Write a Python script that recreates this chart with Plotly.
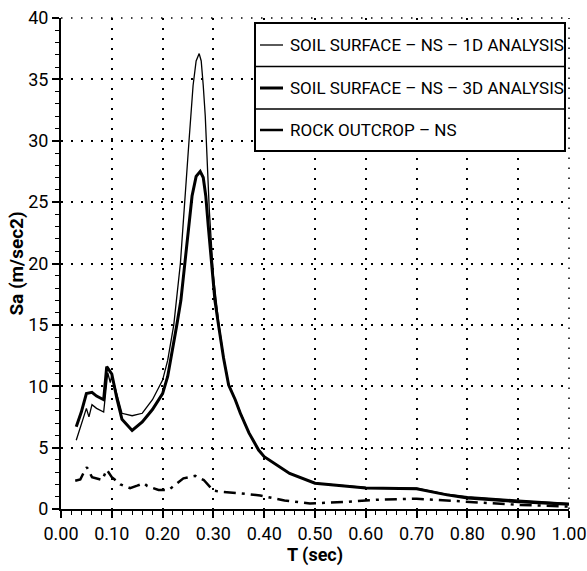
import plotly.graph_objects as go

# ---- data ----
t_1d = [0.030, 0.040, 0.050, 0.055, 0.061, 0.070, 0.084, 0.092, 0.097, 0.100,
        0.110, 0.120, 0.140, 0.160, 0.180, 0.200, 0.210, 0.222, 0.235, 0.243,
        0.252, 0.260, 0.266, 0.272, 0.276, 0.280, 0.284, 0.292, 0.300, 0.310,
        0.320, 0.330, 0.343, 0.353, 0.370, 0.389, 0.400, 0.450, 0.500, 0.600,
        0.700, 0.760, 0.800, 0.900, 1.000]
sa_1d = [5.6, 6.9, 8.2, 7.5, 8.5, 8.2, 7.9, 11.1, 10.3, 10.9,
         9.3, 7.8, 7.6, 7.8, 8.9, 10.5, 12.1, 15.0, 20.0, 25.0,
         30.0, 34.5, 36.5, 37.1, 36.5, 34.5, 32.0, 24.3, 19.0, 15.3,
         12.4, 10.2, 8.9, 7.8, 6.2, 4.8, 4.26, 2.9, 2.1, 1.75,
         1.7, 1.2, 1.0, 0.72, 0.46]

t_3d = [0.030, 0.040, 0.050, 0.061, 0.070, 0.084, 0.090, 0.100, 0.110, 0.120,
        0.140, 0.160, 0.180, 0.200, 0.210, 0.220, 0.228, 0.236, 0.245, 0.252,
        0.258, 0.266, 0.274, 0.280, 0.285, 0.290, 0.296, 0.303, 0.310, 0.320,
        0.330, 0.343, 0.353, 0.370, 0.389, 0.400, 0.450, 0.500, 0.600, 0.700,
        0.760, 0.800, 0.900, 1.000]
sa_3d = [6.7, 7.9, 9.4, 9.5, 9.2, 8.9, 11.6, 11.0, 9.0, 7.3,
         6.4, 7.1, 8.1, 9.4, 10.8, 13.0, 15.0, 17.0, 20.5, 23.5,
         25.5, 27.1, 27.5, 27.0, 25.5, 23.0, 20.0, 17.0, 15.0, 12.3,
         10.1, 8.9, 7.8, 6.2, 4.8, 4.26, 2.9, 2.1, 1.72, 1.65,
         1.15, 0.9, 0.6, 0.38]

t_rock = [0.028, 0.038, 0.045, 0.051, 0.061, 0.081, 0.090, 0.100, 0.117, 0.136,
          0.150, 0.163, 0.170, 0.192, 0.212, 0.241, 0.264, 0.281, 0.300, 0.314,
          0.353, 0.392, 0.440, 0.490, 0.556, 0.629, 0.700, 0.760, 0.825, 0.904,
          1.000]
sa_rock = [2.3, 2.4, 3.0, 3.4, 2.6, 2.36, 3.2, 2.6, 2.0, 1.7,
           1.9, 2.1, 1.87, 1.55, 1.55, 2.5, 2.7, 2.36, 1.5, 1.4,
           1.28, 1.1, 0.7, 0.45, 0.57, 0.77, 0.84, 0.68, 0.5, 0.33,
           0.2]

series_names = ["SOIL SURFACE – NS – 1D ANALYSIS",
                "SOIL SURFACE – NS – 3D ANALYSIS",
                "ROCK OUTCROP – NS"]
x_ticks = [0.0, 0.1, 0.2, 0.3, 0.4, 0.5, 0.6, 0.7, 0.8, 0.9, 1.0]
y_ticks = [0, 5, 10, 15, 20, 25, 30, 35, 40]

FONT = "Roboto, Liberation Sans, sans-serif"
GRID_DASH = "1.5px,8.5px"

fig = go.Figure()
fig.add_trace(go.Scatter(x=t_1d, y=sa_1d, mode="lines", name=series_names[0],
                         line=dict(color="black", width=1.3)))
fig.add_trace(go.Scatter(x=t_3d, y=sa_3d, mode="lines", name=series_names[1],
                         line=dict(color="black", width=3)))
fig.add_trace(go.Scatter(x=t_rock, y=sa_rock, mode="lines", name=series_names[2],
                         line=dict(color="black", width=2.5, dash="12px,6px,3px,6px")))

axis_common = dict(
    showline=True, linecolor="black", linewidth=2,
    ticks="outside", ticklen=7, tickwidth=1.5, tickcolor="black",
    showgrid=True, gridcolor="black", gridwidth=1.5, griddash=GRID_DASH,
    zeroline=False, mirror=False, ticklabeloverflow="allow", automargin=False,
    tickfont=dict(family=FONT, size=18, color="black"),
)

fig.update_xaxes(range=[0, 1], tickvals=x_ticks, tickformat=".2f",
                 minor=dict(dtick=0.02, ticks="outside", ticklen=4, tickcolor="black",
                            tickwidth=1.2, showgrid=False),
                 title=dict(text="<b>T (sec)</b>", font=dict(family=FONT, size=18, color="black"),
                            standoff=0),
                 **axis_common)
fig.update_yaxes(range=[0, 40], tickvals=y_ticks,
                 minor=dict(dtick=1, ticks="outside", ticklen=4, tickcolor="black",
                            tickwidth=1.2, showgrid=False),
                 title=dict(text="<b>Sa (m/sec2)</b>", font=dict(family=FONT, size=19, color="black"),
                            standoff=0),
                 **axis_common)

# ---- layout helpers ----
W, H = 587, 571
L, R, T, B = 61, 18, 18, 62
pw, ph = W - L - R, H - T - B


def px2paper(px, py):
    return (px - L) / pw, (H - B - py) / ph


# dotted grid at the far edges (top and right)
shapes = [
    dict(type="line", xref="paper", yref="paper", x0=0, x1=1, y0=1, y1=1,
         line=dict(color="black", width=1.5, dash=GRID_DASH), layer="below"),
    dict(type="line", xref="paper", yref="paper", x0=1, x1=1, y0=0, y1=1,
         line=dict(color="black", width=1.5, dash=GRID_DASH), layer="below"),
]

# ---- boxed legend with separators ----
x0, y0 = px2paper(255, 23)
x1, y1 = px2paper(565, 151)
shapes.append(dict(type="rect", xref="paper", yref="paper", x0=x0, y0=y1, x1=x1, y1=y0,
                   line=dict(color="black", width=2), fillcolor="white", layer="above"))
for sep in [66.5, 109]:
    _, ys = px2paper(0, sep)
    shapes.append(dict(type="line", xref="paper", yref="paper", x0=x0, x1=x1, y0=ys, y1=ys,
                       line=dict(color="black", width=1.5), layer="above"))
row_y = [45, 88, 130]
sample_w = [1.3, 3, 2.5]
annotations = []
for i, name in enumerate(series_names):
    sx0, sy = px2paper(260, row_y[i])
    sx1, _ = px2paper(283, row_y[i])
    shapes.append(dict(type="line", xref="paper", yref="paper", x0=sx0, x1=sx1, y0=sy, y1=sy,
                       line=dict(color="black", width=sample_w[i]), layer="above"))
    tx, _ = px2paper(288, row_y[i])
    annotations.append(dict(xref="paper", yref="paper", x=tx, y=sy, text=name,
                            xanchor="left", yanchor="middle", showarrow=False,
                            font=dict(family=FONT, size=17, color="black")))

fig.update_layout(
    width=W, height=H,
    margin=dict(l=L, r=R, t=T, b=B),
    paper_bgcolor="white", plot_bgcolor="white",
    showlegend=False,
    shapes=shapes, annotations=annotations,
)

fig.write_html("out.html", config={"displayModeBar": False},
               post_script="document.body.style.margin='0';document.body.style.padding='0';")
